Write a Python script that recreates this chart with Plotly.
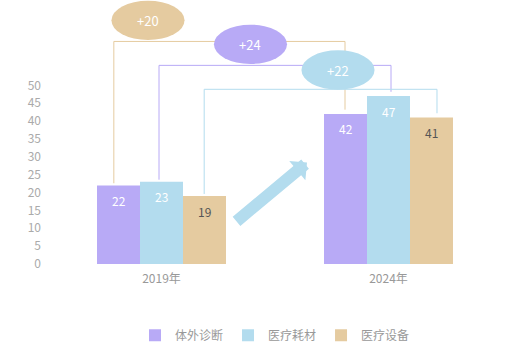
import plotly.graph_objects as go

categories = ["2019年", "2024年"]
series_names = ["体外诊断", "医疗耗材", "医疗设备"]
ivd = [22, 42]
consumables = [23, 47]
equipment = [19, 41]
growth_labels = ["+20", "+24", "+22"]
y_ticks = [0, 5, 10, 15, 20, 25, 30, 35, 40, 45, 50]

colors = ["#b8aaf6", "#b3dcee", "#e5cba0"]
label_colors = ["#ffffff", "#ffffff", "#555555"]
line_colors = ["#e5cba0", "#b8aaf6", "#b3dcee"]
ellipse_colors = ["#e5cba0", "#b8aaf6", "#b3dcee"]

series = [ivd, consumables, equipment]
FONT = "Noto Sans CJK SC, Noto Sans, sans-serif"

BAR_W = 0.1894          # width of one bar in category units
BARGAP = 1 - 3 * BAR_W
offsets = [-BAR_W, 0.0, BAR_W]

fig = go.Figure()
for name, vals, c in zip(series_names, series, colors):
    fig.add_trace(go.Bar(x=categories, y=vals, name=name, marker=dict(color=c, line=dict(width=0)),
                         hoverinfo="skip"))

shapes = []
annotations = []

# value labels inside bars
for i, vals in enumerate(series):
    for j, v in enumerate(vals):
        annotations.append(dict(x=j + offsets[i], y=v, xref="x", yref="y", text=str(v),
                                showarrow=False, yshift=-15,
                                font=dict(family=FONT, size=12, color=label_colors[i])))

# connector lines between the two years
LINE_TOP = 62.3
LINE_STEP = 6.7
GAP = 1.0
for i, vals in enumerate(series):
    level = LINE_TOP - i * LINE_STEP
    x0 = 0 + (i - 1) * 0.199 - 0.011
    x1 = 1 + (i - 1) * 0.2026 + 0.011
    path = (f"M {x0},{vals[0] + GAP * 0.6} L {x0},{level} L {x1},{level} L {x1},{vals[1] + GAP * 1.2}")
    shapes.append(dict(type="path", path=path, xref="x", yref="y",
                       line=dict(color=line_colors[i], width=1), layer="below"))

# growth ellipses
ell_x = [-0.0595, 0.392, 0.7775]
ell_y = [68.2, 61.5, 54.3]
ell_rx = 0.161
ell_ry = 5.5
for k, lab in enumerate(growth_labels):
    shapes.append(dict(type="circle", xref="x", yref="y",
                       x0=ell_x[k] - ell_rx, x1=ell_x[k] + ell_rx,
                       y0=ell_y[k] - ell_ry, y1=ell_y[k] + ell_ry,
                       fillcolor=ellipse_colors[k], line=dict(width=0), layer="above"))
    annotations.append(dict(x=ell_x[k], y=ell_y[k], xref="x", yref="y", text=lab, showarrow=False,
                            font=dict(family=FONT, size=13, color="#ffffff")))

# growth arrow
annotations.append(dict(x=0.641, y=28.4, xref="x", yref="y", ax=-72, ay=60, text="",
                        showarrow=True, arrowhead=1, arrowsize=0.35, arrowwidth=12,
                        arrowcolor="#b3dcee", standoff=0))

fig.update_layout(
    width=521, height=361,
    margin=dict(l=48, r=19, t=0, b=97, autoexpand=False),
    paper_bgcolor="white", plot_bgcolor="white",
    barmode="group", bargap=BARGAP, bargroupgap=0,
    font=dict(family=FONT, size=12, color="#999999"),
    shapes=shapes, annotations=annotations,
    showlegend=True,
    legend=dict(orientation="h", x=0.5, xanchor="center", y=-0.27, yanchor="middle",
                font=dict(family=FONT, size=12, color="#999999"), itemwidth=30,
                traceorder="normal"),
    xaxis=dict(type="category", range=[-0.5, 1.5], showline=False, showgrid=False,
               zeroline=False, ticks="", ticklabelstandoff=6,
               tickfont=dict(color="#999999", size=12)),
    yaxis=dict(range=[0, 73.9], tickvals=y_ticks, showgrid=False, zeroline=False,
               showline=False, ticks="", ticklabelstandoff=6,
               tickfont=dict(color="#aaaaaa", size=12)),
)

fig.write_html("out.html", config={"displayModeBar": False},
               post_script="document.body.style.margin='0px';")
